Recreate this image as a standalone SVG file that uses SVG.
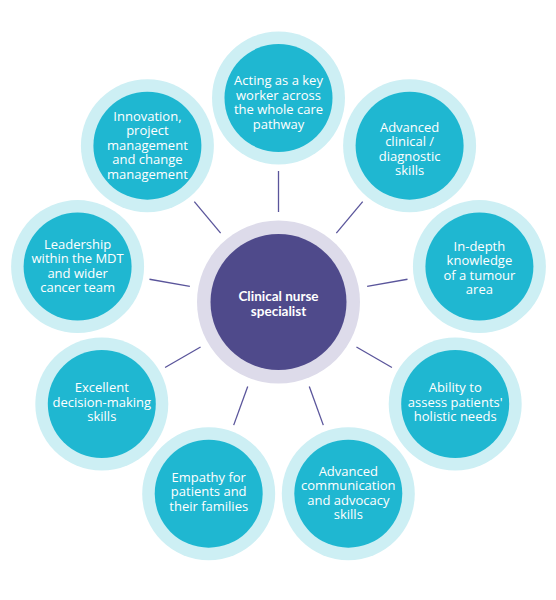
<svg xmlns="http://www.w3.org/2000/svg" width="556" height="600" viewBox="0 0 556 600">
<style>
.halo{fill:#cdeff4}
.core{fill:#1fb7d1}
.lbl{font-family:"Open Sans","Liberation Sans",sans-serif;font-size:13px;fill:#ffffff;text-anchor:middle}
.ctr{font-family:Lato,"Liberation Sans",sans-serif;font-size:13.5px;font-weight:bold;fill:#ffffff;text-anchor:middle}
.conn line{stroke:#5a559b;stroke-width:1.3}
</style>
<rect width="556" height="600" fill="#ffffff"/>
<g id="connectors" class="conn">
<line x1="278.5" y1="212" x2="278.5" y2="171"/>
<line x1="336.35" y1="233.06" x2="362.7" y2="201.65"/>
<line x1="367.13" y1="286.37" x2="407.51" y2="279.25"/>
<line x1="356.44" y1="347" x2="391.95" y2="367.5"/>
<line x1="309.28" y1="386.57" x2="323.3" y2="425.1"/>
<line x1="247.72" y1="386.57" x2="233.7" y2="425.1"/>
<line x1="200.56" y1="347" x2="165.05" y2="367.5"/>
<line x1="189.87" y1="286.37" x2="149.49" y2="279.25"/>
<line x1="220.65" y1="233.06" x2="194.3" y2="201.65"/>
</g>
<g id="center" transform="translate(278.5,302)">
<circle r="81.5" fill="#dddbea"/>
<circle r="68" fill="#4f4a8b"/>
<text class="ctr"><tspan x="0" y="-1">Clinical nurse</tspan><tspan x="0" y="13.5">specialist</tspan></text>
</g>
<g id="n1" transform="translate(278.5,98)">
<circle class="halo" r="66.5"/><circle class="core" r="54"/>
<text class="lbl"><tspan x="0" y="-13">Acting as a key</tspan><tspan x="0" y="1.5">worker across</tspan><tspan x="0" y="16">the whole care</tspan><tspan x="0" y="30.5">pathway</tspan></text>
</g>
<g id="n2" transform="translate(409.6,145.7)">
<circle class="halo" r="66.5"/><circle class="core" r="54"/>
<text class="lbl"><tspan x="0" y="-14">Advanced</tspan><tspan x="0" y="0.5">clinical /</tspan><tspan x="0" y="15">diagnostic</tspan><tspan x="0" y="29.5">skills</tspan></text>
</g>
<g id="n3" transform="translate(479.4,266.6)">
<circle class="halo" r="66.5"/><circle class="core" r="54"/>
<text class="lbl"><tspan x="0" y="-16">In-depth</tspan><tspan x="0" y="-1.5">knowledge</tspan><tspan x="0" y="13">of a tumour</tspan><tspan x="0" y="27.5">area</tspan></text>
</g>
<g id="n4" transform="translate(455.2,404)">
<circle class="halo" r="66.5"/><circle class="core" r="54"/>
<text class="lbl"><tspan x="0" y="-12">Ability to</tspan><tspan x="0" y="2.5">assess patients'</tspan><tspan x="0" y="17">holistic needs</tspan></text>
</g>
<g id="n5" transform="translate(348.3,493.7)">
<circle class="halo" r="66.5"/><circle class="core" r="54"/>
<text class="lbl"><tspan x="0" y="-18">Advanced</tspan><tspan x="0" y="-3.5">communication</tspan><tspan x="0" y="11">and advocacy</tspan><tspan x="0" y="25.5">skills</tspan></text>
</g>
<g id="n6" transform="translate(208.7,493.7)">
<circle class="halo" r="66.5"/><circle class="core" r="54"/>
<text class="lbl"><tspan x="0" y="-12">Empathy for</tspan><tspan x="0" y="2.5">patients and</tspan><tspan x="0" y="17">their families</tspan></text>
</g>
<g id="n7" transform="translate(101.8,404)">
<circle class="halo" r="66.5"/><circle class="core" r="54"/>
<text class="lbl"><tspan x="0" y="-12">Excellent</tspan><tspan x="0" y="2.5">decision-making</tspan><tspan x="0" y="17">skills</tspan></text>
</g>
<g id="n8" transform="translate(77.6,266.6)">
<circle class="halo" r="66.5"/><circle class="core" r="54"/>
<text class="lbl"><tspan x="0" y="-18">Leadership</tspan><tspan x="0" y="-3.5">within the MDT</tspan><tspan x="0" y="11">and wider</tspan><tspan x="0" y="25.5">cancer team</tspan></text>
</g>
<g id="n9" transform="translate(147.4,145.7)">
<circle class="halo" r="66.5"/><circle class="core" r="54"/>
<text class="lbl"><tspan x="0" y="-25">Innovation,</tspan><tspan x="0" y="-10.5">project</tspan><tspan x="0" y="4">management</tspan><tspan x="0" y="18.5">and change</tspan><tspan x="0" y="33">management</tspan></text>
</g>
</svg>
